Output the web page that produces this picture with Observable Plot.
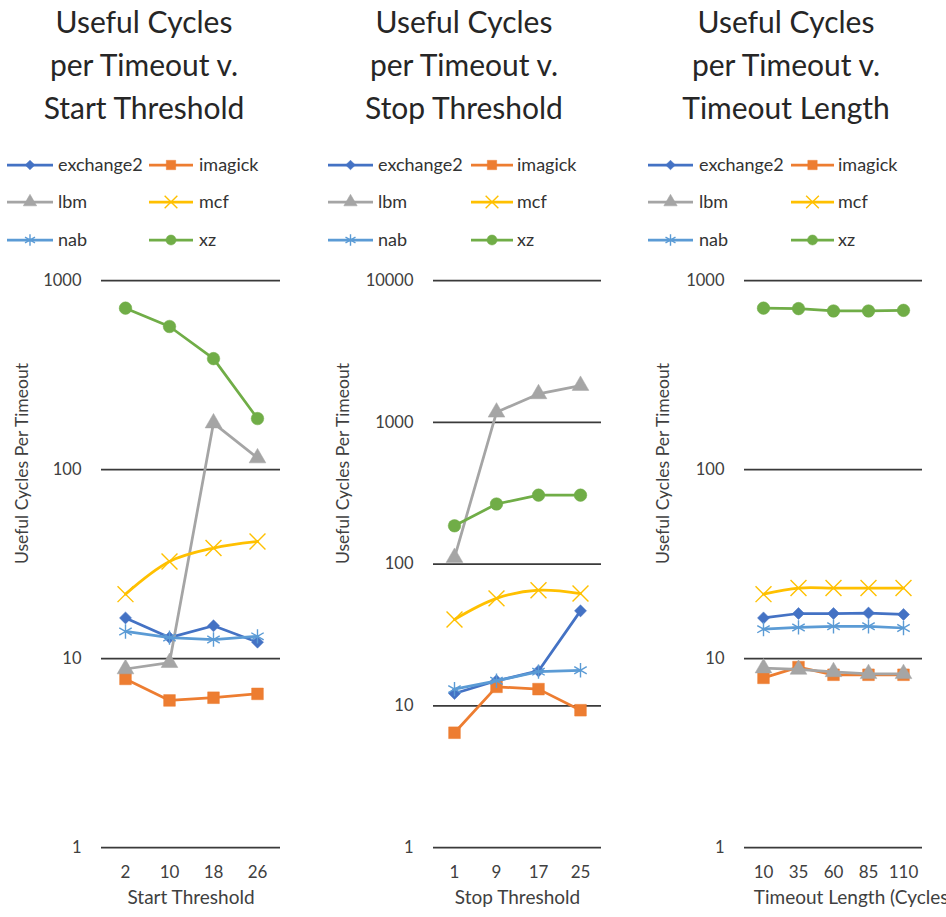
<!DOCTYPE html>
<html>
<head>
<meta charset="utf-8">
<script src="https://cdn.jsdelivr.net/npm/d3@7"></script>
<script src="https://cdn.jsdelivr.net/npm/@observablehq/plot@0.6"></script>
<style>
  html, body { margin: 0; padding: 0; background: #fff; }
  #root { position: relative; width: 946px; height: 917px; overflow: hidden; background: #fff; font-family: Lato, "Open Sans", sans-serif; }
  .title { position: absolute; top: 0; width: 300px; text-align: center; font-size: 30px; line-height: 43px; color: #262626; }
  .panel { position: absolute; top: 260px; }
  #legend { position: absolute; left: 0; top: 140px; }
</style>
</head>
<body>
<div id="root"></div>
<script>
// ---------- data ----------
const series = ["exchange2", "imagick", "lbm", "mcf", "nab", "xz"];
const colors = ["#4472C4", "#ED7D31", "#A5A5A5", "#FFC000", "#5B9BD5", "#70AD47"];

const titles = [
  ["Useful Cycles", "per Timeout v.", "Start Threshold"],
  ["Useful Cycles", "per Timeout v.", "Stop Threshold"],
  ["Useful Cycles", "per Timeout v.", "Timeout Length"]
];
const yLabel = "Useful Cycles Per Timeout";

// Panel 1: vs Start Threshold
const startThreshold = ["2", "10", "18", "26"];
const startExchange2 = [16.4, 12.9, 14.9, 12.2];
const startImagick   = [7.8, 6.0, 6.2, 6.5];
const startLbm       = [8.8, 9.5, 176, 115];
const startMcf       = [21.9, 32.6, 38.4, 41.6];
const startNab       = [13.9, 12.9, 12.6, 13.1];
const startXz        = [714, 571, 386, 186];
const startTicks     = [1, 10, 100, 1000];

// Panel 2: vs Stop Threshold
const stopThreshold = ["1", "9", "17", "25"];
const stopExchange2 = [12.2, 15.0, 17.6, 46.7];
const stopImagick   = [6.45, 13.6, 13.1, 9.3];
const stopLbm       = [111, 1176, 1585, 1815];
const stopMcf       = [40.6, 57.2, 65.3, 61.9];
const stopNab       = [13.1, 15.0, 17.4, 17.8];
const stopXz        = [186, 265, 306, 306];
const stopTicks     = [1, 10, 100, 1000, 10000];

// Panel 3: vs Timeout Length
const timeoutLength   = ["10", "35", "60", "85", "110"];
const timeoutExchange2 = [16.4, 17.3, 17.3, 17.4, 17.1];
const timeoutImagick   = [7.9, 9.0, 8.2, 8.2, 8.2];
const timeoutLbm       = [8.9, 8.75, 8.5, 8.3, 8.3];
const timeoutMcf       = [21.9, 23.6, 23.6, 23.6, 23.6];
const timeoutNab       = [14.3, 14.6, 14.8, 14.8, 14.5];
const timeoutXz        = [714, 710, 690, 690, 695];
const timeoutTicks     = [1, 10, 100, 1000];

const xLabels = ["Start Threshold", "Stop Threshold", "Timeout Length (Cycles)"];

// ---------- styles ----------
const markerStyles = [
  {symbol: "square", r: 4.8, rotate: 45, filled: true},
  {symbol: "square", r: 6.6, rotate: 0, filled: true},
  {symbol: "triangle", r: 6.2, rotate: 0, filled: true},
  {symbol: "times", r: 7.3, rotate: 0, filled: false},
  {symbol: "asterisk", r: 6.8, rotate: 0, filled: false},
  {symbol: "circle", r: 6.3, rotate: 0, filled: true}
];
const curves = ["linear", "linear", "linear", "catmull-rom", "linear", "linear"];

const panels = [
  {xs: startThreshold, vals: [startExchange2, startImagick, startLbm, startMcf, startNab, startXz], ticks: startTicks,
   left: 0, width: 300, ml: 101, mr: 20, titleX: 144, yLabDx: -79, xLabDx: 0,
   legend: {c1: [7, 53], t1: 58, c2: [149, 193], t2: 199}},
  {xs: stopThreshold, vals: [stopExchange2, stopImagick, stopLbm, stopMcf, stopNab, stopXz], ticks: stopTicks,
   left: 315, width: 305, ml: 118, mr: 19, titleX: 464, yLabDx: -90, xLabDx: 0,
   legend: {c1: [328, 373], t1: 378, c2: [471, 513], t2: 517}},
  {xs: timeoutLength, vals: [timeoutExchange2, timeoutImagick, timeoutLbm, timeoutMcf, timeoutNab, timeoutXz], ticks: timeoutTicks,
   left: 630, width: 360, ml: 114, mr: 68, titleX: 786, yLabDx: -81, xLabDx: 20,
   legend: {c1: [648, 693], t1: 699, c2: [791, 834], t2: 838}}
];
const legendRows = [165, 202, 240];

const root = document.getElementById("root");

panels.forEach((p, pi) => {
  const t = document.createElement("div");
  t.className = "title";
  t.style.left = (p.titleX - 150) + "px";
  t.innerHTML = titles[pi].join("<br>");
  root.appendChild(t);

  const rows = [];
  series.forEach((s, i) => p.vals[i].forEach((v, j) => rows.push({series: s, x: p.xs[j], y: v})));

  const marks = [Plot.ruleY(p.ticks, {y: d => d, stroke: "#3a3a3a", strokeWidth: 1.75})];
  series.forEach((s, i) => {
    const d = rows.filter(r => r.series === s);
    const m = markerStyles[i];
    marks.push(Plot.line(d, {x: "x", y: "y", stroke: colors[i], strokeWidth: 2.75, curve: curves[i]}));
    marks.push(Plot.dot(d, {
      x: "x", y: "y", symbol: m.symbol, r: m.r, rotate: m.rotate,
      fill: m.filled ? colors[i] : "none",
      stroke: colors[i], strokeWidth: m.filled ? 0.5 : 1.4
    }));
  });
  marks.push(Plot.axisY({ticks: p.ticks, tickSize: 0, tickPadding: 20, tickFormat: d => String(d), label: null, fontSize: 16.5}));
  marks.push(Plot.axisX({tickSize: 0, tickPadding: 18, label: null, fontSize: 17}));
  marks.push(Plot.text([xLabels[pi]], {text: d => d, frameAnchor: "bottom", dy: 56, dx: p.xLabDx, fontSize: 19, textAnchor: "middle"}));
  marks.push(Plot.text([yLabel], {text: d => d, frameAnchor: "left", dx: p.yLabDx, rotate: -90, fontSize: 17.5}));

  const chart = Plot.plot({
    width: p.width,
    height: 657,
    marginLeft: p.ml,
    marginRight: p.mr,
    marginTop: 20,
    marginBottom: 70,
    x: {type: "point", domain: p.xs, padding: 0.5},
    y: {type: "log", domain: [p.ticks[0], p.ticks[p.ticks.length - 1]]},
    style: {fontFamily: "Lato, 'Open Sans', sans-serif", color: "#404040", background: "transparent", overflow: "visible"},
    marks
  });
  chart.classList.add("panel");
  chart.style.position = "absolute";
  chart.style.left = p.left + "px";
  chart.style.top = "260px";
  root.appendChild(chart);
});

// ---------- legends ----------
const legendSvg = d3.select(root).append("svg")
  .attr("id", "legend").attr("width", 946).attr("height", 120)
  .style("position", "absolute").style("left", "0px").style("top", "140px");
const symTypes = [d3.symbolSquare, d3.symbolSquare, d3.symbolTriangle, d3.symbolTimes, d3.symbolAsterisk, d3.symbolCircle];
panels.forEach(p => {
  series.forEach((s, i) => {
    const col = i % 2, row = Math.floor(i / 2);
    const [x0, x1] = col === 0 ? p.legend.c1 : p.legend.c2;
    const tx = col === 0 ? p.legend.t1 : p.legend.t2;
    const y = legendRows[row] - 140;
    const g = legendSvg.append("g");
    g.append("line").attr("x1", x0).attr("x2", x1).attr("y1", y).attr("y2", y)
      .attr("stroke", colors[i]).attr("stroke-width", 2.75);
    const m = markerStyles[i];
    const rr = m.r * 0.8;
    g.append("path")
      .attr("d", d3.symbol(symTypes[i], Math.PI * rr * rr)())
      .attr("transform", `translate(${(x0 + x1) / 2},${y}) rotate(${m.rotate})`)
      .attr("fill", m.filled ? colors[i] : "none")
      .attr("stroke", colors[i]).attr("stroke-width", m.filled ? 0.5 : 1.4);
    g.append("text").attr("x", tx).attr("y", y).attr("dy", "0.35em")
      .attr("font-family", "Lato, 'Open Sans', sans-serif").attr("font-size", 18)
      .attr("fill", "#333").text(s);
  });
});
</script>
</body>
</html>
